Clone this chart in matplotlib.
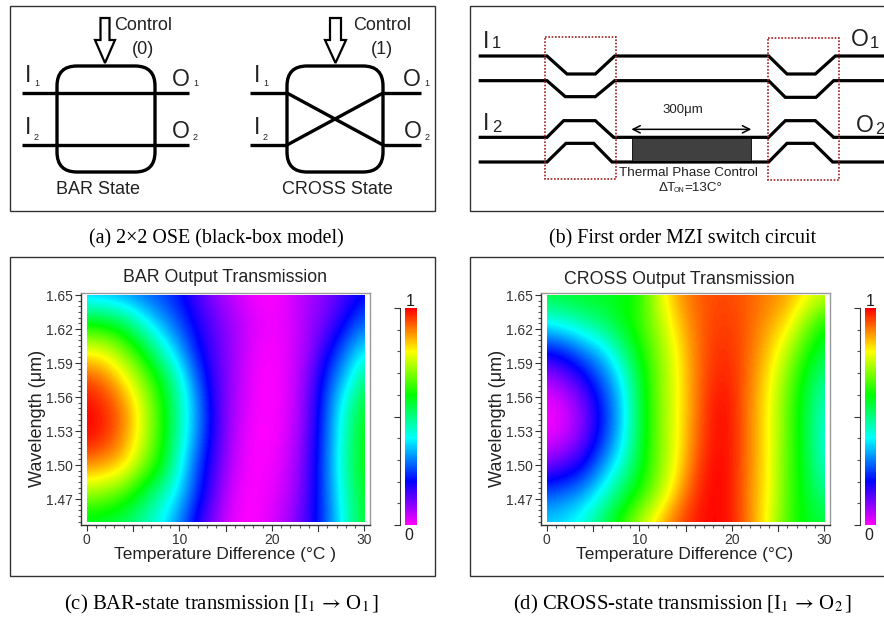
##############################################################################
# Optical switch figure - schematics and transmission maps
##############################################################################

import numpy as np
import matplotlib
matplotlib.use("Agg")
import matplotlib.pyplot as plt
from matplotlib.colors import LinearSegmentedColormap
from matplotlib.patches import FancyBboxPatch, Polygon, Rectangle
from matplotlib.ticker import MultipleLocator

plt.rcParams["font.family"] = ["Liberation Sans", "DejaVu Sans"]
plt.rcParams["mathtext.fontset"] = "stix"

##############################################################################
# Data
##############################################################################

temperature = [0, 2, 4, 6, 8, 10, 12, 14, 16, 18, 20, 22, 24, 26, 28, 30]
wavelength = [1.65, 1.625, 1.60, 1.575, 1.55, 1.525, 1.50, 1.475, 1.45]

bar_values = [
    [.34, .33, .31, .28, .25, .21, .14, .08, .04, .01, .00, .03, .07, .10, .15, .20],
    [.60, .59, .54, .43, .34, .26, .18, .12, .07, .03, .01, .03, .08, .12, .21, .29],
    [.80, .78, .70, .60, .46, .34, .21, .13, .07, .02, .00, .03, .08, .19, .30, .40],
    [.95, .91, .82, .71, .59, .44, .27, .14, .07, .01, .00, .03, .11, .25, .37, .52],
    [1.0, .97, .90, .77, .63, .47, .31, .15, .06, .01, .00, .03, .12, .28, .45, .58],
    [1.0, .97, .89, .77, .63, .46, .30, .15, .05, .00, .00, .04, .13, .29, .47, .60],
    [.89, .87, .83, .71, .60, .42, .25, .13, .04, .00, .01, .05, .14, .30, .48, .60],
    [.72, .70, .65, .56, .47, .37, .23, .11, .02, .00, .02, .06, .15, .29, .46, .58],
    [.56, .55, .52, .47, .40, .30, .17, .08, .01, .00, .03, .08, .16, .28, .44, .57],
]

cross_values = [
    [.56, .57, .58, .58, .59, .62, .76, .87, .92, .94, .94, .92, .90, .87, .81, .76],
    [.40, .43, .47, .52, .58, .64, .73, .83, .91, .95, .95, .92, .87, .82, .70, .60],
    [.20, .23, .30, .36, .48, .60, .70, .80, .90, .96, .96, .91, .84, .74, .62, .55],
    [.06, .10, .17, .27, .38, .56, .69, .79, .90, .97, .97, .90, .81, .69, .57, .48],
    [.00, .03, .10, .22, .35, .55, .69, .79, .90, .99, .98, .89, .80, .67, .55, .44],
    [.01, .04, .11, .23, .36, .55, .69, .79, .91, .99, .98, .89, .80, .67, .55, .42],
    [.11, .14, .20, .31, .43, .57, .69, .80, .93, 1.0, .98, .89, .80, .66, .56, .44],
    [.27, .29, .33, .42, .53, .62, .72, .85, .96, 1.0, .98, .88, .80, .66, .57, .49],
    [.37, .39, .44, .53, .63, .74, .84, .93, .98, 1.0, .98, .89, .78, .65, .58, .56],
]

wavelength_ticks = [1.47, 1.50, 1.53, 1.56, 1.59, 1.62, 1.65]
temperature_ticks = [0, 10, 20, 30]

captions = [
    "(a) 2×2 OSE (black-box model)",
    "(b) First order MZI switch circuit",
    r"(c) BAR-state transmission [I$_1$$\,\rightarrow\,$O$_1$$\,$]",
    r"(d) CROSS-state transmission [I$_1$$\,\rightarrow\,$O$_2$$\,$]",
]
caption_sizes = [14.4, 14.4, 14.9, 14.9]

# waveguides of the MZI circuit, in pixels of the 3x crop starting at x=462
mzi_paths = [
    [(50, 168), (255, 168), (315, 222), (400, 222), (458, 168), (920, 168), (975, 222), (1060, 222), (1120, 168), (1270, 168)],
    [(50, 242), (255, 242), (310, 290), (400, 290), (458, 242), (920, 242), (970, 292), (1062, 292), (1115, 242), (1270, 242)],
    [(50, 412), (255, 412), (305, 362), (400, 362), (455, 412), (920, 412), (970, 362), (1060, 362), (1115, 412), (1270, 412)],
    [(50, 486), (255, 486), (312, 430), (395, 430), (450, 486), (920, 486), (975, 430), (1055, 430), (1112, 486), (1270, 486)],
]

rainbow = LinearSegmentedColormap.from_list(
    "rainbow_map",
    [(0.0, "#ff00ff"), (0.2, "#0000ff"), (0.4, "#00ffff"), (0.6, "#00ff00"), (0.8, "#ffff00"), (1.0, "#ff0000")],
)

##############################################################################
# Figure and pixel overlay
##############################################################################

W, H = 884, 617
fig = plt.figure(figsize=(W / 100, H / 100), dpi=100)

overlay = fig.add_axes([0, 0, 1, 1], zorder=5)
overlay.set_xlim(0, W)
overlay.set_ylim(H, 0)
overlay.axis("off")
overlay.patch.set_alpha(0)

TEXT = "#222222"


def put(x, y, s, size, **kw):
    kw.setdefault("ha", "center")
    kw.setdefault("va", "center")
    kw.setdefault("color", TEXT)
    overlay.text(x, y, s, fontsize=size, **kw)


def port(x, y, name, num, sub_dx, size=16.5, sub_size=6.5, sub_dy=8):
    put(x, y, name, size, ha="left")
    put(x + sub_dx, y + sub_dy, num, sub_size, ha="left")


def block_arrow(xc, half_shaft, half_head):
    pts = [(xc - half_shaft, 18), (xc + half_shaft, 18), (xc + half_shaft, 40), (xc + half_head, 40),
           (xc, 63), (xc - half_head, 40), (xc - half_shaft, 40)]
    overlay.add_patch(Polygon(pts, closed=True, fc="white", ec="black", lw=1.6, zorder=4))


def wire(xs, ys, lw=2.4):
    overlay.plot(xs, ys, color="black", lw=lw, solid_capstyle="butt", solid_joinstyle="miter", zorder=3)


# panel borders
for x0, y0, x1, y1 in [(10, 6, 435, 211), (470, 6, 890, 211), (10, 257, 435, 576), (470, 257, 890, 576)]:
    overlay.add_patch(Rectangle((x0, y0), x1 - x0, y1 - y0, fc="none", ec="#333333", lw=1.0))

##############################################################################
# Panel (a)
##############################################################################

for x0, x1 in [(57, 155), (287, 383)]:
    overlay.add_patch(FancyBboxPatch((x0 + 20, 86), x1 - x0 - 40, 66, boxstyle="round,pad=20,rounding_size=20",
                                     fc="none", ec="black", lw=2.4, zorder=3))

wire([22, 189], [93, 93])
wire([22, 189], [145, 145])
wire([250, 287], [93, 93])
wire([250, 287], [145, 145])
wire([383, 421], [93, 93])
wire([383, 421], [145, 145])
wire([287, 383], [93, 145])
wire([287, 383], [145, 93])

block_arrow(105, 4.5, 10)
block_arrow(335.5, 5.5, 10.5)

put(114, 25, "Control", 13, ha="left")
put(143, 49, "(0)", 13)
put(353, 25, "Control", 13, ha="left")
put(382, 49, "(1)", 13)

port(25, 75, "I", "1", 9)
port(25, 127, "I", "2", 9, sub_dy=10)
port(172, 79, "O", "1", 21, sub_dy=5)
port(172, 132, "O", "2", 21, sub_dy=5)
port(254, 75, "I", "1", 9)
port(254, 127, "I", "2", 9, sub_dy=10)
port(403, 79, "O", "1", 21, sub_dy=5)
port(404, 132, "O", "2", 21, sub_dy=5)

put(98, 189, "BAR State", 13)
put(337, 189, "CROSS State", 13)

##############################################################################
# Panel (b)
##############################################################################

for path in mzi_paths:
    wire([462 + p[0] / 3 for p in path], [p[1] / 3 for p in path], lw=2.3)

for x0, y0, x1, y1 in [(250, 110, 463, 537), (917, 114, 1130, 541)]:
    overlay.add_patch(Rectangle((462 + x0 / 3, y0 / 3), (x1 - x0) / 3, (y1 - y0) / 3,
                                fc="none", ec="#a02020", lw=1.2, ls=(0, (1, 1)), zorder=4))

overlay.add_patch(Rectangle((462 + 510 / 3, 415 / 3), 356 / 3, 69 / 3, fc="#404040", ec="black", lw=0.6, zorder=4))
overlay.annotate("", xy=(462 + 508 / 3, 388 / 3), xytext=(462 + 868 / 3, 388 / 3),
                 arrowprops=dict(arrowstyle="<->", color="black", lw=1.1, mutation_scale=13, shrinkA=0, shrinkB=0))

put(462 + 663 / 3, 110, "300μm", 9.5)
put(462 + 680 / 3, 173, "Thermal Phase Control", 9.7)
put(659, 188, "ΔT", 9.7, ha="left")
put(674, 190.5, "ON", 5, ha="left")
put(684, 188, "=13C°", 9.7, ha="left")

port(483, 41, "I", "1", 9, sub_size=12, sub_dy=3)
port(483, 124, "I", "2", 9, sub_size=12, sub_dy=3)
port(851, 40, "O", "1", 19, sub_size=12, sub_dy=4)
port(856, 126, "O", "2", 19, sub_size=12, sub_dy=3)

##############################################################################
# Panels (c) and (d)
##############################################################################


def heat_panel(values, box_left, title, title_x, title_y, x_label, label_x, bar_left):
    # axes box is 289 x 232 px, the map sits 6 px inside it at left and right
    ax = fig.add_axes([box_left / W, 1 - 525 / H, 289 / W, 232 / H])
    dx = temperature[1] - temperature[0]
    dy = wavelength[0] - wavelength[1]
    im = ax.imshow(values, cmap=rainbow, vmin=0, vmax=1, aspect="auto", interpolation="bicubic",
                   interpolation_stage="data",
                   extent=[temperature[0] - dx / 2, temperature[-1] + dx / 2,
                           wavelength[-1] - dy / 2, wavelength[0] + dy / 2])
    clip = Rectangle((temperature[0], wavelength[-1]), temperature[-1] - temperature[0],
                     wavelength[0] - wavelength[-1], transform=ax.transData)
    im.set_clip_path(clip)
    ax.set_xlim(-0.62, 30.62)
    ax.set_ylim(1.4471, 1.6518)

    ax.set_xticks(temperature_ticks)
    ax.xaxis.set_minor_locator(MultipleLocator(1))
    ax.set_yticks(wavelength_ticks)
    ax.set_yticklabels(["%.2f" % t for t in wavelength_ticks])
    ax.yaxis.set_minor_locator(MultipleLocator(0.005))
    ax.tick_params(which="major", length=4.5, width=0.8, labelsize=10, colors="#333333", pad=1.5)
    ax.tick_params(which="minor", length=2.2, width=0.8, colors="#555555")
    for t in [5, 15, 25]:
        ax.plot([t, t], [0, -0.026], transform=ax.get_xaxis_transform(), color="#333333", lw=0.8, clip_on=False)
    for s in ["top", "right"]:
        ax.spines[s].set_color("#999999")
    for s in ["left", "bottom"]:
        ax.spines[s].set_color("#333333")
    for s in ax.spines.values():
        s.set_linewidth(1.0)

    put(title_x, title_y, title, 12.8)
    put(label_x, 555, x_label, 12.5)
    overlay.text(box_left - 43, 418, "Wavelength (μm)", fontsize=13, rotation=90, ha="center", va="center", color=TEXT)

    cax = fig.add_axes([bar_left / W, 1 - 525 / H, 11.5 / W, 217 / H])
    cbar = fig.colorbar(im, cax=cax)
    cbar.outline.set_visible(False)
    cax.yaxis.set_ticks_position("left")
    cax.spines["left"].set_visible(True)
    cax.spines["left"].set_position(("outward", 3.6))
    cax.spines["left"].set_color("#333333")
    cax.set_yticks([0, 0.5, 1])
    cax.set_yticklabels([])
    cax.yaxis.set_minor_locator(MultipleLocator(0.1))
    cax.tick_params(which="major", length=4.5, width=0.8, color="#333333")
    cax.tick_params(which="minor", length=2.2, width=0.8, color="#555555")
    put(bar_left + 5.5, 301, "1", 11.5)
    put(bar_left + 3.5, 536, "0", 11.5)


heat_panel(bar_values, 81, "BAR Output Transmission", 225, 277, "Temperature Difference (°C )", 225, 405)
heat_panel(cross_values, 541, "CROSS Output Transmission", 679, 279, "Temperature Difference (°C)", 685, 865)

##############################################################################
# Captions
##############################################################################

for (x, y), text, size in zip([(216, 239), (683, 239), (222, 604), (683, 604)], captions, caption_sizes):
    put(x, y, text, size, family=["Liberation Serif", "DejaVu Serif"], color="black")

fig.savefig("out.png", dpi=100)
